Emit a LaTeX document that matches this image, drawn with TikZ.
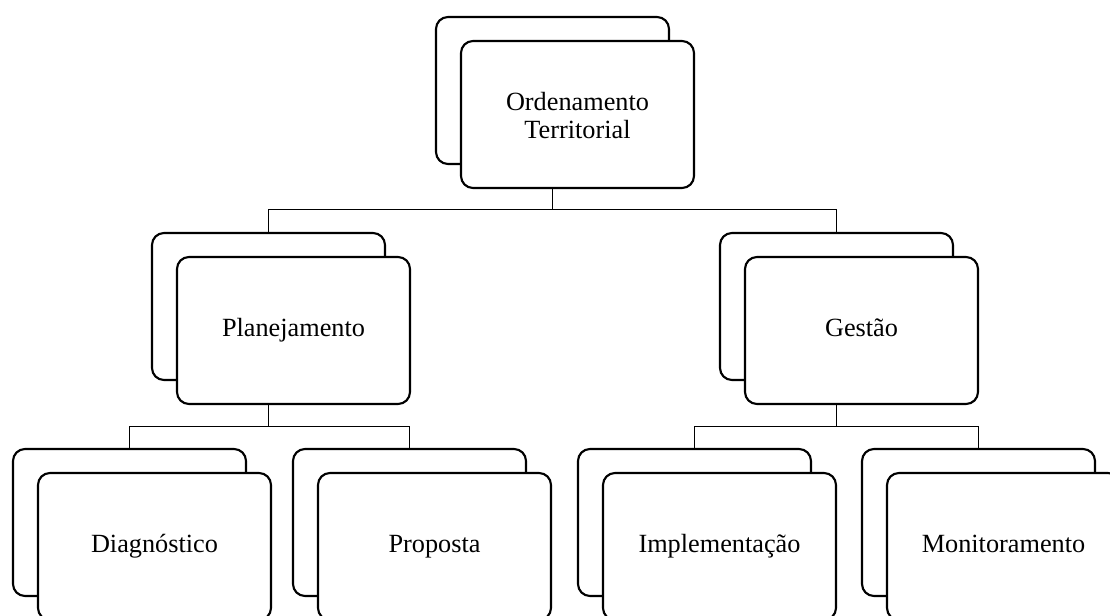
\documentclass[tikz,border=0pt]{standalone}
\usepackage{fontspec}
\setmainfont{Liberation Serif}
\usetikzlibrary{calc}
\begin{document}
\begin{tikzpicture}[x=0.75pt,y=-0.75pt,
  card/.style={draw=black,line width=1.6pt,rounded corners=9pt,fill=white,
    minimum width=174.75pt,minimum height=110.25pt,inner sep=0pt,outer sep=0pt,
    anchor=north west,align=center,font=\fontsize{19.7pt}{21pt}\selectfont},
  link/.style={draw=black,line width=0.75pt}]
\useasboundingbox (0,0) rectangle (1110,616);
\clip (0,0) rectangle (1110,616);
% back cards
\node[card] (bTop)  at (436,17) {};
\node[card] (bPlan) at (152,233) {};
\node[card] (bGest) at (720,233) {};
\node[card] (bDiag) at (13,449) {};
\node[card] (bProp) at (293,449) {};
\node[card] (bImpl) at (578,449) {};
\node[card] (bMoni) at (862,449) {};
% front cards
\node[card] (fTop)  at (461,41) {\rule{0pt}{22pt}Ordenamento\\\strut Territorial};
\node[card] (fPlan) at (177,257) {\strut Planejamento};
\node[card] (fGest) at (745,257) {\strut Gestão};
\node[card] (fDiag) at (38,473) {\strut Diagnóstico};
\node[card] (fProp) at (318,473) {\strut Proposta};
\node[card] (fImpl) at (603,473) {\strut Implementação};
\node[card] (fMoni) at (887,473) {\strut Monitoramento};
% connectors
\draw[link] (bTop.center |- fTop.south) -- ++(0,22) coordinate (j1);
\draw[link] (j1) -| (bPlan.north);
\draw[link] (j1) -| (bGest.north);
\draw[link] (bPlan.center |- fPlan.south) -- ++(0,22) coordinate (j2);
\draw[link] (j2) -| (bDiag.north);
\draw[link] (j2) -| (bProp.north);
\draw[link] (bGest.center |- fGest.south) -- ++(0,22) coordinate (j3);
\draw[link] (j3) -| (bImpl.north);
\draw[link] (j3) -| (bMoni.north);
\end{tikzpicture}
\end{document}
